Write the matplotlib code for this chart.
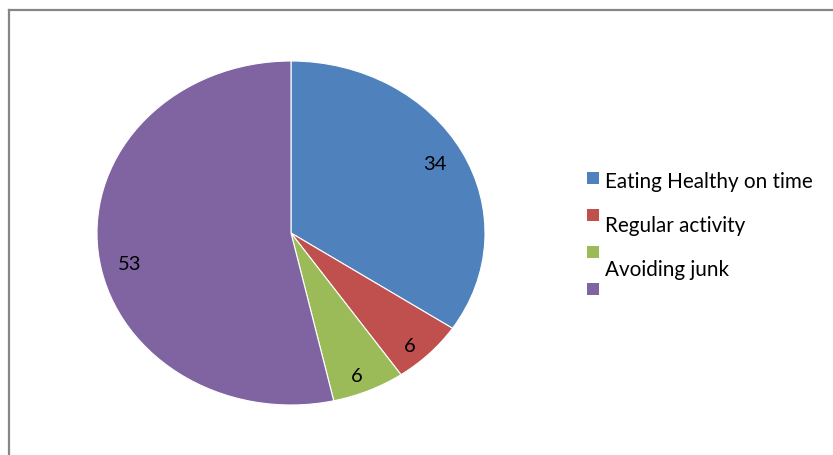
import numpy as np
import matplotlib.pyplot as plt
from matplotlib.patches import Rectangle
from matplotlib.lines import Line2D

plt.rcParams['font.family'] = ['Lato', 'DejaVu Sans']

categories = ['Eating Healthy on time', 'Regular activity', 'Avoiding junk', '']
values = [34, 6, 6, 53]
colors = ['#4F81BD', '#C0504D', '#9BBB59', '#8064A2']

# label placement tweaks (radius fraction, angle shift in degrees)
label_dist = [0.84, 0.90, 0.90, 0.85]
label_shift = [0, -2.5, -1.5, 6]

W, H = 833, 455
fig = plt.figure(figsize=(W / 100, H / 100), dpi=100)

# chart frame (only left and top edges visible)
fig.add_artist(Line2D([8.5 / W, 8.5 / W], [0, 1 - 9.5 / H], color='#868686', lw=1.6))
fig.add_artist(Line2D([8.5 / W, 1], [1 - 9.5 / H, 1 - 9.5 / H], color='#868686', lw=1.6))

# pie as an ellipse
ax = fig.add_axes([97 / W, 1 - 405 / H, 388 / W, 344 / H])
wedges, _ = ax.pie(values, colors=colors, startangle=90, counterclock=False,
                   wedgeprops=dict(edgecolor='white', linewidth=0.8))
ax.set_aspect('auto')
ax.set_xlim(-1, 1)
ax.set_ylim(-1, 1)

for w, v, d, s in zip(wedges, values, label_dist, label_shift):
    ang = np.deg2rad((w.theta1 + w.theta2) / 2 + s)
    ax.text(d * np.cos(ang), d * np.sin(ang), str(v), ha='center', va='center',
            fontsize=14.5, color='black')

# legend drawn by hand (markers and labels drift apart like the original)
for i, (c, lab) in enumerate(zip(colors, categories)):
    my = 178 + i * 37
    fig.add_artist(Rectangle((587 / W, 1 - (my + 6) / H), 12 / W, 12 / H,
                             facecolor=c, edgecolor='none', transform=fig.transFigure))
    if lab:
        ty = 182.5 + i * 43.5
        fig.text(605 / W, 1 - ty / H, lab, fontsize=14.9, va='center', ha='left')

fig.savefig('out.png', dpi=100)
